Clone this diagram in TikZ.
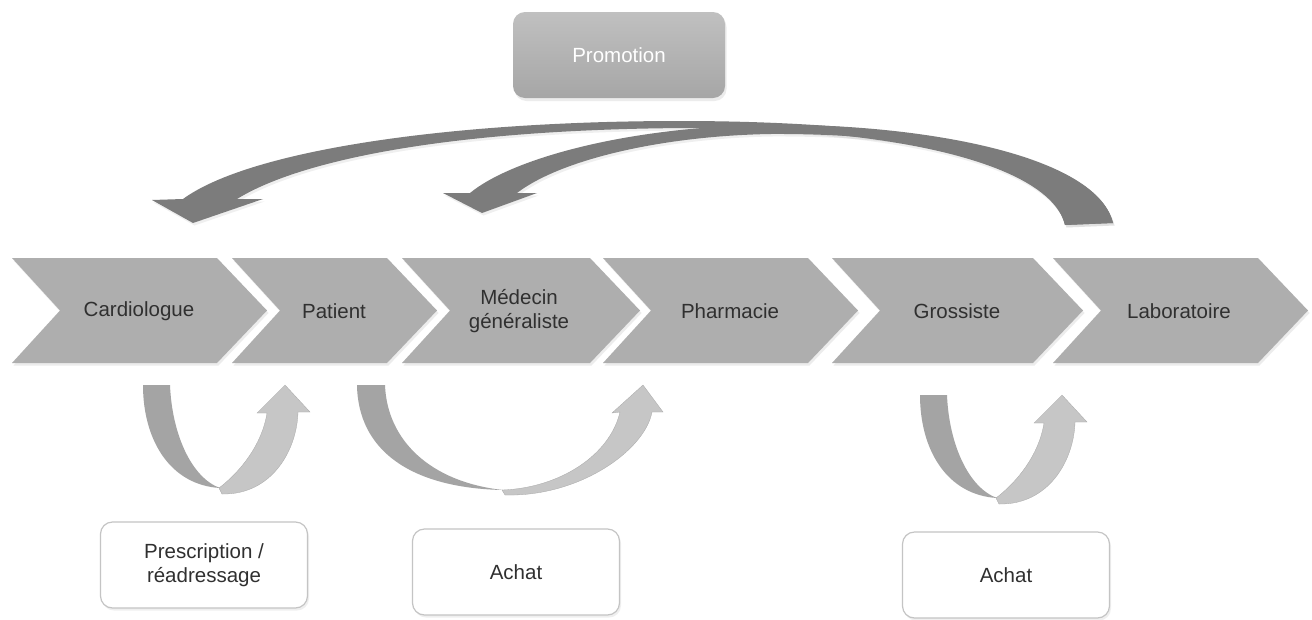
\documentclass[tikz,border=0pt]{standalone}
\usepackage{fontspec}
\setmainfont{Liberation Sans}
\usetikzlibrary{shadows}
\definecolor{chev}{HTML}{AEAEAE}
\definecolor{arr}{HTML}{7C7C7C}
\definecolor{udark}{HTML}{A4A4A4}
\definecolor{ulight}{HTML}{C6C6C6}
\definecolor{txt}{HTML}{303030}
\definecolor{bord}{HTML}{C4C4C4}
\definecolor{promotop}{HTML}{C0C0C0}
\definecolor{promobot}{HTML}{A6A6A6}
\begin{document}
\begin{tikzpicture}[x=1pt,y=-1pt,
  chevron/.style={fill=chev, drop shadow={opacity=0.15, shadow xshift=1.5pt, shadow yshift=-2.5pt}},
  toparrow/.style={fill=arr, drop shadow={opacity=0.12, shadow xshift=1.5pt, shadow yshift=-2.5pt}},
  darkband/.style={fill=udark},
  lightband/.style={fill=ulight, draw=ulight!85!black, line width=0.3pt},
  lbl/.style={text=txt, font=\fontsize{20.5}{24}\selectfont, align=center, inner sep=0pt},
  notebox/.style={draw=bord, line width=1.2pt, fill=white, rounded corners=12pt,
    drop shadow={opacity=0.12, shadow xshift=1.5pt, shadow yshift=-2.5pt},
    minimum width=207pt, minimum height=86pt, text=txt,
    font=\fontsize{20.5}{24}\selectfont, align=center},
  promobox/.style={rounded corners=12pt, top color=promotop, bottom color=promobot,
    drop shadow={opacity=0.15, shadow xshift=1.5pt, shadow yshift=-3pt},
    minimum width=212pt, minimum height=86pt, text=white,
    font=\fontsize{20.5}{24}\selectfont}]
\useasboundingbox[fill=white] (0,0) rectangle (1312,619);

% promotion box
\node[promobox] (promo) at (619,55) {Promotion};

% top curved arrows
\fill[toparrow] (1113,223) .. controls (1095,150) and (900,121) .. (680,121)
  .. controls (450,121) and (250,150) .. (183,199) -- (152,200) -- (193,223) -- (263,199) -- (237,199)
  .. controls (300,160) and (450,129) .. (690,128)
  .. controls (900,128) and (1050,165) .. (1065,225) -- cycle;
\fill[toparrow] (1113,223) .. controls (1095,150) and (900,122) .. (760,125)
  .. controls (620,128) and (510,160) .. (470,193) -- (443,193) -- (482,213) -- (537,193) -- (517,193)
  .. controls (560,160) and (660,136) .. (770,134)
  .. controls (940,133) and (1050,165) .. (1065,225) -- cycle;

% chevrons
\fill[chevron] (12,258) -- (217,258) -- (267,310.5) -- (217,363) -- (12,363) -- (60,310.5) -- cycle;
\fill[chevron] (232,258) -- (387,258) -- (437,310.5) -- (387,363) -- (232,363) -- (280,310.5) -- cycle;
\fill[chevron] (402,258) -- (590,258) -- (640,310.5) -- (590,363) -- (402,363) -- (450,310.5) -- cycle;
\fill[chevron] (603,258) -- (808,258) -- (858,310.5) -- (808,363) -- (603,363) -- (651,310.5) -- cycle;
\fill[chevron] (832,258) -- (1033,258) -- (1083,310.5) -- (1033,363) -- (832,363) -- (880,310.5) -- cycle;
\fill[chevron] (1053,258) -- (1258,258) -- (1308,310.5) -- (1258,363) -- (1053,363) -- (1101,310.5) -- cycle;

\node[lbl] (cardio) at (139,311) {Cardiologue};
\node[lbl] (patient) at (334,311) {Patient};
\node[lbl] (medecin) at (519,311) {Médecin\\généraliste};
\node[lbl] (pharma) at (730,311) {Pharmacie};
\node[lbl] (gross) at (957,311) {Grossiste};
\node[lbl] (labo) at (1179,311) {Laboratoire};

% U arrow 1
\fill[darkband] (143,385) -- (170,385) .. controls (172,435) and (192,478) .. (220,488)
  .. controls (170,485) and (143,440) .. (143,385) -- cycle;
\filldraw[lightband] (219,488) .. controls (240,472) and (262,445) .. (267,413) -- (257,413) -- (285,385)
  -- (310,412) -- (298,412) .. controls (297,450) and (272,495) .. (222,494) -- cycle;

% U arrow 2
\fill[darkband] (357,385) -- (385,385) .. controls (387,440) and (430,482) .. (503,490)
  .. controls (410,488) and (358,450) .. (357,385) -- cycle;
\filldraw[lightband] (502,490) .. controls (560,488) and (610,455) .. (620,412) -- (612,413) -- (643,385)
  -- (663,412) -- (652,412) .. controls (645,450) and (580,497) .. (505,495) -- cycle;

% U arrow 3
\begin{scope}[shift={(777,10)}]
\fill[darkband] (143,385) -- (170,385) .. controls (172,435) and (192,478) .. (220,488)
  .. controls (170,485) and (143,440) .. (143,385) -- cycle;
\filldraw[lightband] (219,488) .. controls (240,472) and (262,445) .. (267,413) -- (257,413) -- (285,385)
  -- (310,412) -- (298,412) .. controls (297,450) and (272,495) .. (222,494) -- cycle;
\end{scope}

% note boxes
\node[notebox] (presc) at (204,565) {Prescription /\\réadressage};
\node[notebox] (achat1) at (516,572) {Achat};
\node[notebox] (achat2) at (1006,575) {Achat};
\end{tikzpicture}
\end{document}
